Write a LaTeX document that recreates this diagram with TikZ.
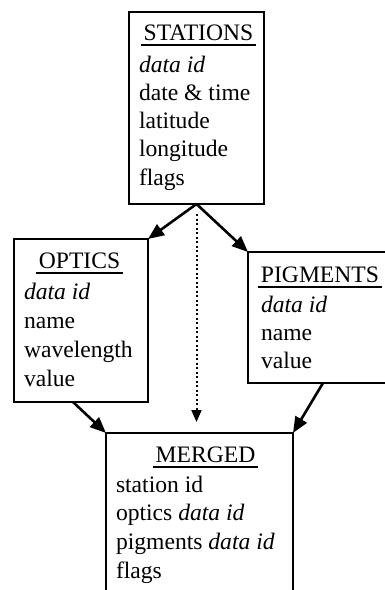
\documentclass[tikz,border=0pt]{standalone}
\usepackage{fontspec}
\setmainfont{Liberation Serif}
\usetikzlibrary{arrows.meta}
\begin{document}
\begin{tikzpicture}[x=1pt,y=-1pt,
  box/.style={draw, line width=2.6pt, rectangle, inner sep=0pt, outer sep=0pt, anchor=north west},
  txt/.style={inner sep=0pt, outer sep=0pt, font=\fontsize{23.6}{28}\selectfont},
  ttl/.style={txt, anchor=base},
  row/.style={txt, anchor=base west},
  uline/.style={line width=1.8pt},
  arr/.style={line width=2.6pt, -{Triangle[length=16pt,width=13pt]}},
  dotarr/.style={line width=2pt, dash pattern=on 2pt off 2.5pt, -{Triangle[length=12pt,width=10pt]}}
]
\useasboundingbox (0,0) rectangle (384,590);
\fill[white] (0,0) rectangle (384,590);

% boxes
\node[box, minimum width=135pt, minimum height=192pt] (stations) at (129,12) {};
\node[box, minimum width=134pt, minimum height=163pt] (optics) at (14,239) {};
\node[box, minimum width=144pt, minimum height=131pt] (pigments) at (248,252) {};
\node[box, minimum width=187pt, minimum height=170pt] (merged) at (106,433) {};

% titles
\node[ttl] (stt) at (198.5,40) {STATIONS};
\node[ttl] (opt) at (79.5,268) {OPTICS};
\node[ttl] (pgt) at (320,282) {PIGMENTS};
\node[ttl] (mgt) at (205.5,462) {MERGED};
\foreach \t in {stt,opt,pgt,mgt}
  \draw[uline] ([xshift=-3pt,yshift=-5pt]\t.base west) -- ([xshift=3pt,yshift=-5pt]\t.base east);

% rows
\foreach [count=\i] \r in {{\textit{data id}},{date \& time},latitude,longitude,flags}
  \node[row] (st\i) at (139,{72+28.3*(\i-1)}) {\r};
\foreach [count=\i] \r in {{\textit{data id}},name,wavelength,value}
  \node[row] (op\i) at (24,{299+29.3*(\i-1)}) {\r};
\foreach [count=\i] \r in {{\textit{data id}},name,value}
  \node[row] (pg\i) at (261,{312+28*(\i-1)}) {\r};
\foreach [count=\i] \r in {{station id},{optics \textit{data id}},{pigments \textit{data id}},flags}
  \node[row] (mg\i) at (116,{492+28.7*(\i-1)}) {\r};

% connectors
\draw[arr] (stations.south) -- (optics.north east);
\draw[arr] (stations.south) -- (pigments.north west);
\draw[dotarr] ([yshift=-10pt]stations.south) -- ([yshift=11pt]stations.south |- merged.north);
\draw[arr] ([xshift=-8pt]optics.south) -- (merged.north west);
\draw[arr] ([xshift=3pt]pigments.south) -- (merged.north east);
\end{tikzpicture}
\end{document}
